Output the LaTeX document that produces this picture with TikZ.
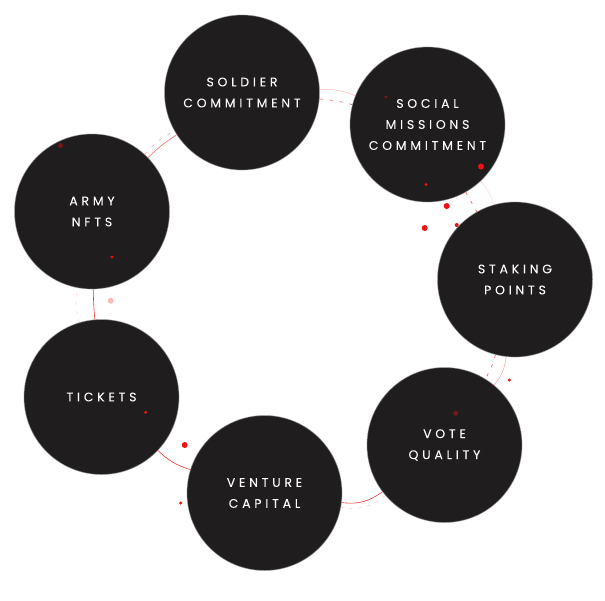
\documentclass[tikz,border=0pt]{standalone}
\usepackage{fontspec}
\newfontfamily\lblfont[LetterSpace=30, FakeBold=0.6]{Poppins}

\definecolor{disc}{RGB}{31,29,29}
\definecolor{rim}{RGB}{150,150,150}
\definecolor{accent}{RGB}{238,18,18}
\definecolor{ember}{RGB}{118,22,22}
\definecolor{blush}{RGB}{255,185,185}

\tikzset{
  stage/.style={circle, minimum size=155pt, inner sep=0pt, fill=disc,
    draw=rim, draw opacity=0.55, line width=0.8pt, text=white, align=center,
    font=\lblfont\fontsize{12.5}{21}\selectfont},
  ringline/.style={accent, line width=0.6pt, opacity=0.85},
  faintline/.style={accent, line width=0.5pt, opacity=0.3},
  ringdash/.style={accent, line width=0.6pt, dash pattern=on 3pt off 7pt, opacity=0.75},
  faintdash/.style={accent, line width=0.5pt, dash pattern=on 3pt off 6pt, opacity=0.25},
}

\begin{document}
\begin{tikzpicture}[x=1pt,y=-1pt]
  \useasboundingbox[fill=white] (0,0) rectangle (605,600);

  % the seven stages around the ring
  \node[stage] (soldier) at (242,92.5)   {SOLDIER\\COMMITMENT};
  \node[stage] (social)  at (427.5,124.5) {SOCIAL\\MISSIONS\\COMMITMENT};
  \node[stage] (staking) at (515,279.5)  {STAKING\\POINTS};
  \node[stage] (vote)    at (444.5,445)  {VOTE\\QUALITY};
  \node[stage] (venture) at (264.5,493)  {VENTURE\\CAPITAL};
  \node[stage] (tickets) at (101.5,397)  {TICKETS};
  \node[stage] (army)    at (92,211.5)   {ARMY\\NFTS};

  % ring segments between neighbouring stages
  \draw[faintline] (soldier) to[bend left=12] (social);
  \draw[ringdash]  (soldier) to[bend left=5]  (social);

  \draw[faintline, opacity=0.15] (social) to[bend left=13.5] (staking);
  \draw[ringdash]  (social) -- (staking);

  \draw[faintline, opacity=0.4] (staking) to[bend left=16.5] (vote);
  \draw[ringdash]  (staking) to[bend left=8.5] (vote);

  \draw[ringline]  (vote) to[bend left=22] (venture);
  \draw[faintdash] (vote) to[bend left=25.5] (venture);

  \draw[ringline]  (venture) to[bend left=13] (tickets);

  \draw[ringline]  (tickets) to[bend left=2] (army);
  \draw[faintdash] (tickets) to[bend left=13.5] (army);

  \draw[ringline, opacity=0.6] (army) to[bend left=5.5] (soldier);
  \draw[ringdash, opacity=0.4] (army) to[bend left=9] (soldier);

  % scattered sparks
  \fill[ember]  (386,97)      circle (1.6pt);
  \fill[accent] (481,166.5)   circle (3pt);
  \fill[accent] (426,184.5)   circle (1.7pt);
  \fill[accent] (446.7,206)   circle (3pt);
  \fill[accent] (424.7,228)   circle (3pt);
  \fill[accent] (456.7,225)   circle (2pt);
  \fill[ember]  (60.5,145.5)  circle (2.5pt);
  \fill[accent] (112,257)     circle (1.7pt);
  \fill[blush]  (110.7,300.7) circle (3pt);
  \fill[accent] (145.7,412.3) circle (1.7pt);
  \fill[accent] (184.7,445)   circle (3pt);
  \fill[accent] (180.7,503)   circle (1.7pt);
  \fill[ember]  (455.7,413.3) circle (2.5pt);
  \fill[accent] (509.3,380)   circle (1.7pt);
\end{tikzpicture}
\end{document}
